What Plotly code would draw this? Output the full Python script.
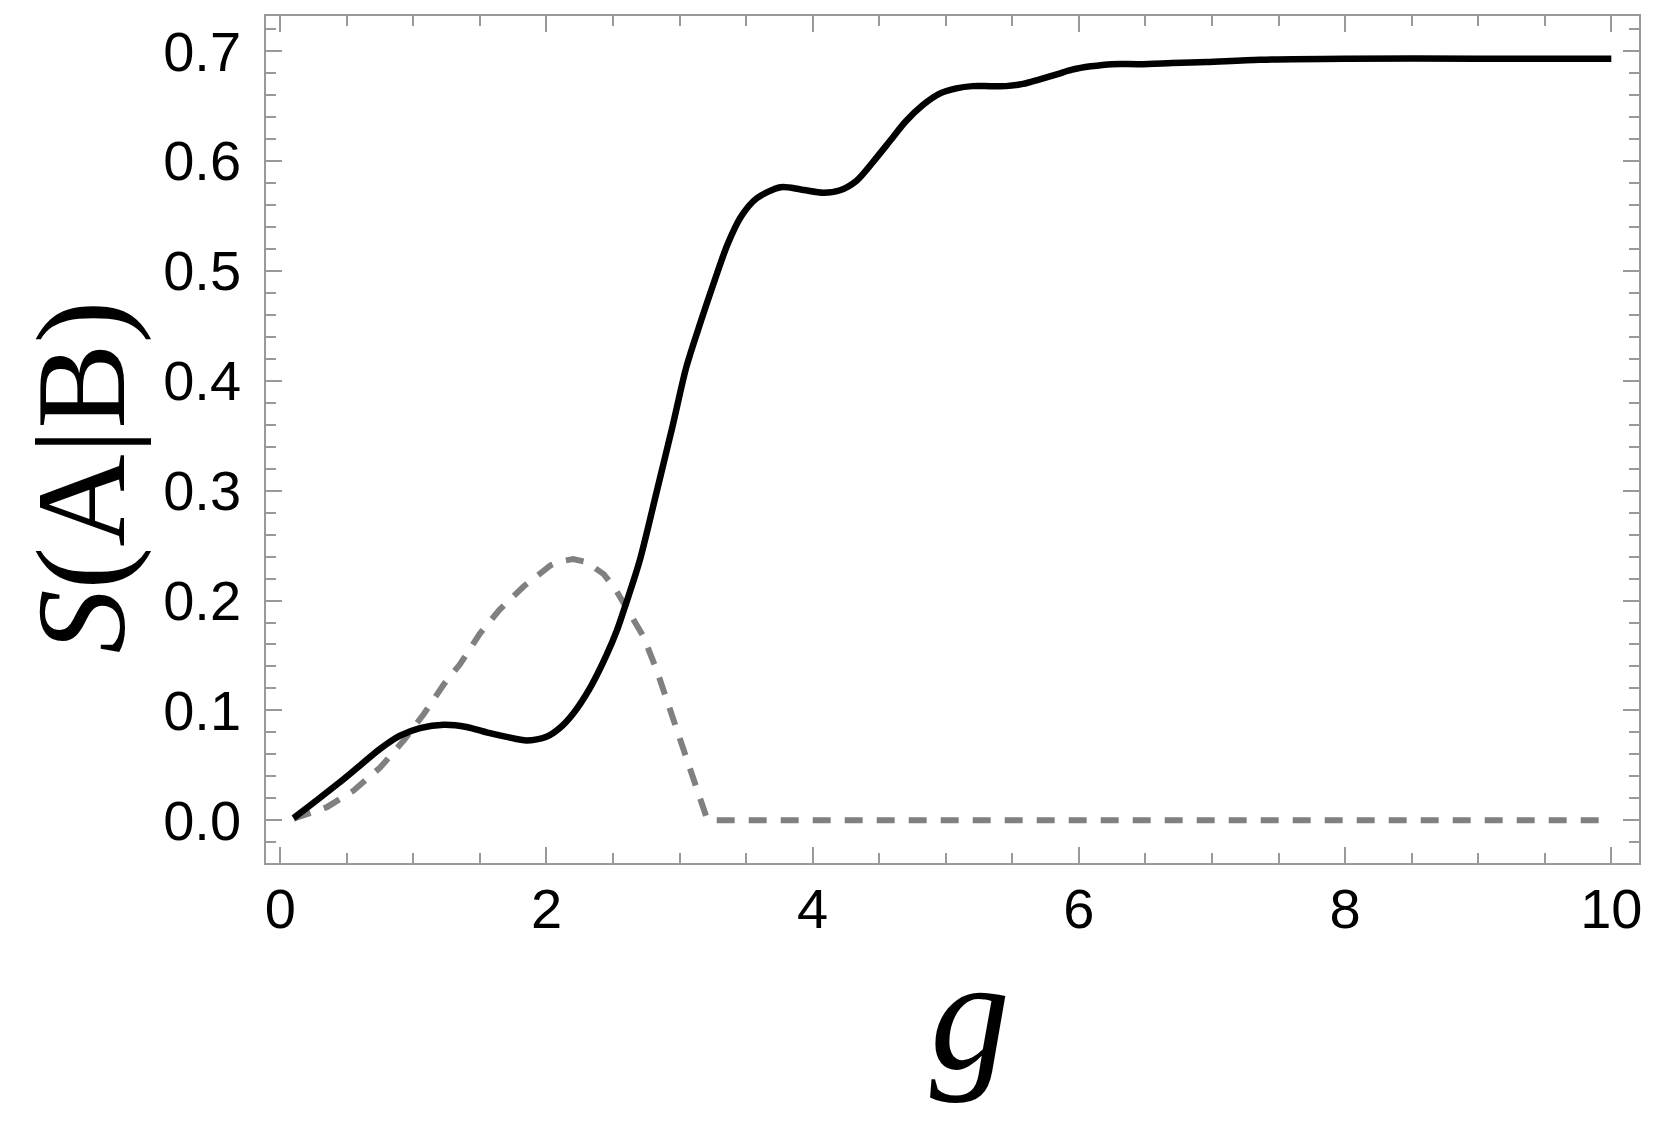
import plotly.graph_objects as go

# solid curve: S(A|B)
g_solid = [0.1, 0.25, 0.43, 0.6, 0.75, 0.9, 1.05, 1.23, 1.4, 1.55, 1.7, 1.85,
           2.0, 2.1, 2.2, 2.33, 2.45, 2.53, 2.6, 2.7, 2.83, 2.95, 3.05, 3.16,
           3.26, 3.36, 3.46, 3.58, 3.76, 3.91, 4.08, 4.2, 4.33, 4.48, 4.58,
           4.7, 4.83, 4.95, 5.08, 5.2, 5.33, 5.45, 5.58, 5.7, 5.84, 5.95,
           6.09, 6.25, 6.46, 6.7, 6.96, 7.36, 8.0, 9.0, 10.0]
s_solid = [0.002, 0.016, 0.033, 0.050, 0.065, 0.077, 0.084, 0.087, 0.085,
           0.080, 0.076, 0.0727, 0.076, 0.084, 0.097, 0.121, 0.150, 0.173,
           0.198, 0.236, 0.300, 0.360, 0.412, 0.454, 0.490, 0.524, 0.549,
           0.566, 0.576, 0.574, 0.571, 0.573, 0.582, 0.603, 0.618, 0.636,
           0.651, 0.661, 0.666, 0.668, 0.668, 0.668, 0.670, 0.674, 0.679,
           0.683, 0.686, 0.688, 0.688, 0.689, 0.690, 0.692, 0.693, 0.693,
           0.693]

# dashed curve
g_dash = [0.1, 0.35, 0.55, 0.75, 0.93, 1.08, 1.23, 1.35, 1.5, 1.65, 1.83,
          2.03, 2.1, 2.2, 2.3, 2.43, 2.52, 2.6, 2.73, 2.83, 2.93, 3.03, 3.13,
          3.21, 4.0, 6.0, 8.0, 10.0]
s_dash = [0.0015, 0.012, 0.027, 0.048, 0.073, 0.097, 0.124, 0.142, 0.170,
          0.192, 0.213, 0.232, 0.2355, 0.2377, 0.235, 0.224, 0.210, 0.194,
          0.167, 0.136, 0.100, 0.064, 0.027, 0.0, 0.0, 0.0, 0.0, 0.0]

x_ticks = [0, 2, 4, 6, 8, 10]
y_ticks = [0.0, 0.1, 0.2, 0.3, 0.4, 0.5, 0.6, 0.7]
y_ticktext = ["%.1f" % v for v in y_ticks]

frame = "#999999"

fig = go.Figure()

fig.add_trace(go.Scatter(
    x=g_dash, y=s_dash, mode="lines",
    line=dict(color="#808080", width=6, dash="18px,14px"),
))
fig.add_trace(go.Scatter(
    x=g_solid, y=s_solid, mode="lines",
    line=dict(color="black", width=6.5, shape="spline", smoothing=0.8),
))

axis_common = dict(
    showline=True, linecolor=frame, linewidth=1.5, mirror="allticks",
    ticks="inside", ticklen=16, tickwidth=1.5, tickcolor=frame,
    showgrid=False, zeroline=False,
    tickfont=dict(family="Liberation Sans, Arial", size=56, color="black"),
)

fig.update_xaxes(
    range=[-0.107, 10.208], tickvals=x_ticks, ticklabelstandoff=-4,
    minor=dict(ticks="inside", ticklen=10, tickwidth=1.5, tickcolor=frame, dtick=0.5),
    **axis_common,
)
fig.update_yaxes(
    range=[-0.0388, 0.7318], tickvals=y_ticks, ticktext=y_ticktext,
    ticklabelstandoff=12,
    minor=dict(ticks="inside", ticklen=10, tickwidth=1.5, tickcolor=frame, dtick=0.02),
    **axis_common,
)

fig.add_annotation(
    text="<i>S</i>(A|B)", textangle=-90, showarrow=False,
    xref="paper", yref="paper", x=-0.135, y=0.456,
    xanchor="center", yanchor="middle",
    font=dict(family="Liberation Serif, Times New Roman", size=128, color="black"),
)
fig.add_annotation(
    text="<i>g</i>", showarrow=False,
    xref="paper", yref="paper", x=0.513, y=-0.072,
    xanchor="center", yanchor="top",
    font=dict(family="Liberation Serif, Times New Roman", size=160, color="black"),
)

# page has an 8px body margin, so the figure is drawn 8px smaller on each side
fig.update_layout(
    width=1645, height=1108,
    margin=dict(l=258, r=14, t=6, b=253),
    plot_bgcolor="white", paper_bgcolor="white",
    showlegend=False,
)

fig.write_html("out.html")
